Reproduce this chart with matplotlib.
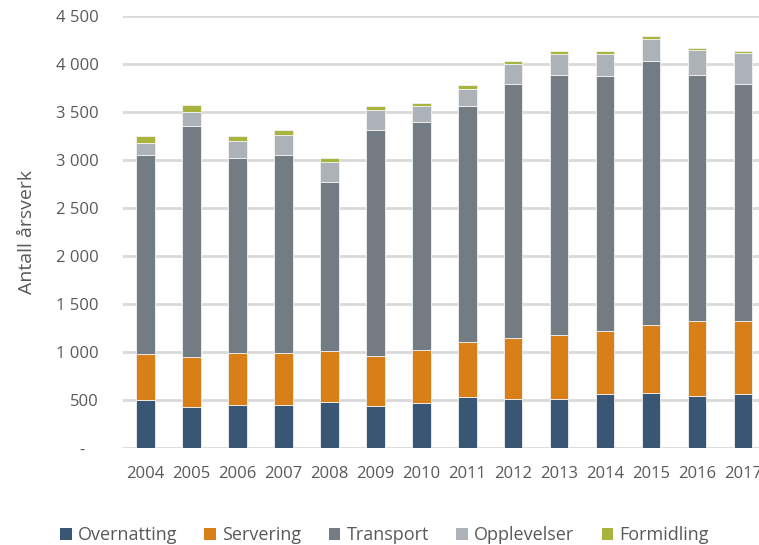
import matplotlib
matplotlib.use("Agg")
import matplotlib.pyplot as plt
from matplotlib.patches import Patch
from matplotlib.ticker import FuncFormatter, MultipleLocator
import numpy as np

plt.rcParams['font.family'] = ['Open Sans', 'DejaVu Sans']

years = ['2004', '2005', '2006', '2007', '2008', '2009', '2010',
         '2011', '2012', '2013', '2014', '2015', '2016', '2017']
series_names = ['Overnatting', 'Servering', 'Transport', 'Opplevelser', 'Formidling']
overnatting = [500, 427, 454, 454, 485, 444, 472, 538, 510, 517, 569, 576, 548, 566]
servering = [479, 521, 536, 536, 529, 521, 549, 566, 636, 663, 653, 708, 778, 760]
transport = [2079, 2402, 2037, 2068, 1753, 2351, 2371, 2455, 2642, 2709, 2656, 2744, 2556, 2462]
opplevelser = [119, 153, 171, 202, 215, 201, 171, 184, 212, 212, 230, 236, 260, 323]
formidling = [76, 73, 58, 56, 42, 49, 34, 34, 35, 31, 31, 27, 25, 21]
colors = ['#3A5675', '#D97F17', '#737B83', '#ADB2B8', '#A9B43C']

data = [overnatting, servering, transport, opplevelser, formidling]

W, H = 759, 545
fig = plt.figure(figsize=(W / 100, H / 100), dpi=100)
ax = fig.add_axes([122.7 / W, (H - 448.3) / H, (766 - 122.7) / W, (448.3 - 16) / H])

x = np.arange(len(years))
bottom = np.zeros(len(years))
for name, vals, c in zip(series_names, data, colors):
    ax.bar(x, vals, width=0.4, bottom=bottom, color=c, edgecolor='#F2F2F2',
           linewidth=0.6, zorder=3, label=name)
    bottom += np.array(vals)

ax.set_xlim(-0.5, len(years) - 0.5)
ax.set_ylim(0, 4500)
ax.yaxis.set_major_locator(MultipleLocator(500))


def fmt(v, pos):
    if v == 0:
        return '-   '
    return f"{v:,.0f}".replace(",", " ")


ax.yaxis.set_major_formatter(FuncFormatter(fmt))
ax.set_xticks(x)
ax.set_xticklabels(years)
ax.grid(axis='y', color='#D9D9D9', linewidth=2, zorder=0)
ax.set_axisbelow(True)
for s in ax.spines.values():
    s.set_visible(False)
ax.tick_params(axis='both', length=0, colors='#595959', labelsize=12)
ax.tick_params(axis='y', pad=17.5)
ax.tick_params(axis='x', pad=13)

fig.text(27 / W, 1 - 232 / H, 'Antall årsverk', rotation=90, ha='center', va='center',
         fontsize=14, color='#595959')

handles = [Patch(facecolor=c, edgecolor='none') for c in colors]
leg = fig.legend(handles, series_names, loc='center', ncol=5,
                 bbox_to_anchor=(384.5 / W, 1 - 535 / H), frameon=False,
                 fontsize=13, handlelength=0.65, handleheight=0.65,
                 handletextpad=0.35, columnspacing=1.5, borderaxespad=0,
                 borderpad=0)
for t in leg.get_texts():
    t.set_color('#595959')

fig.savefig('out.png', dpi=100)
